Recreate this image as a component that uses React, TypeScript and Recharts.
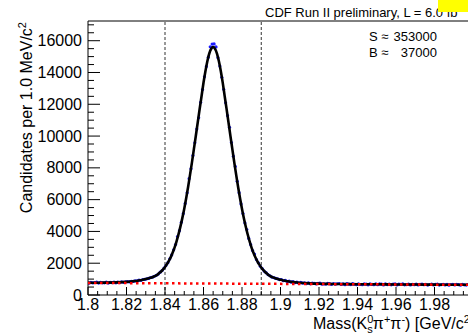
import React from 'react';
import { ComposedChart, Line, Scatter, XAxis, YAxis, ReferenceLine } from 'recharts';

const FONT = '"Liberation Sans", Arial, Helvetica, sans-serif';

// histogram binning (1 MeV bins from 1.800 GeV)
const binStart = 1.8;
const binWidth = 0.001;

// candidates per bin
const dataCounts = [
  741, 801, 757, 786, 810, 750, 796, 767, 763, 808, 748, 799, 777, 819, 766, 805, 783, 826, 800, 834,
  841, 822, 866, 851, 893, 884, 931, 922, 975, 979,
  1020, 1043, 1095, 1119, 1181, 1242, 1318, 1437, 1541, 1695,
  1858, 2037, 2275, 2519, 2840, 3179, 3680, 4049, 4578, 5126,
  5765, 6432, 7320, 7941, 8772, 9580, 10445, 11150, 12125, 12925,
  13730, 14380, 14965, 15620, 15790, 15800, 15610, 14935, 14402, 13700,
  12940, 12090, 11285, 10550, 9595, 8735, 8090, 7150, 6437, 5728,
  5128, 4538, 4120, 3562, 3175, 2795, 2580, 2228, 2030, 1810,
  1665, 1508, 1405, 1284, 1211, 1130, 1097, 1040, 1018, 969,
  975, 898, 921, 845, 878, 805, 846, 772, 818, 745,
  798, 741, 769, 716, 760, 705, 752, 738, 697, 735,
  742, 684, 706, 675, 733, 714, 664, 724, 683, 708,
  723, 666, 698, 651, 718, 687, 659, 712, 676, 645,
  708, 662, 649, 699, 689, 641, 705, 668, 652, 696,
  648, 695, 683, 637, 700, 657, 687, 643, 678, 697,
  634, 688, 673, 695, 639, 659, 686, 631, 677, 650,
  690, 630, 666, 683, 644, 675, 627, 661, 685, 637,
  663, 681, 624, 656, 674, 634, 668, 619, 660, 677,
  630, 665, 652, 617, 669, 641, 623, 660, 649, 620,
];

// total fit curve
const fitMass = [
  1.8, 1.805, 1.81, 1.815, 1.82, 1.821, 1.822, 1.823, 1.824, 1.825, 1.826, 1.827, 1.828, 1.829,
  1.83, 1.831, 1.832, 1.833, 1.834, 1.835, 1.836, 1.837, 1.838, 1.839,
  1.84, 1.841, 1.842, 1.843, 1.844, 1.845, 1.846, 1.847, 1.848, 1.849,
  1.85, 1.851, 1.852, 1.853, 1.854, 1.855, 1.856, 1.857, 1.858, 1.859,
  1.86, 1.861, 1.862, 1.863, 1.864, 1.865, 1.866, 1.867, 1.868, 1.869,
  1.87, 1.871, 1.872, 1.873, 1.874, 1.875, 1.876, 1.877, 1.878, 1.879,
  1.88, 1.881, 1.882, 1.883, 1.884, 1.885, 1.886, 1.887, 1.888, 1.889,
  1.89, 1.891, 1.892, 1.893, 1.894, 1.895, 1.896, 1.897, 1.898, 1.899,
  1.9, 1.901, 1.902, 1.903, 1.904, 1.905, 1.906, 1.907, 1.908, 1.909,
  1.91, 1.915, 1.92, 1.925, 1.93, 1.94, 1.95, 1.96, 1.97, 1.98, 1.99, 2.0,
];
const fitCounts = [
  770, 773, 779, 793, 824, 833, 845, 858, 872, 886, 905, 925, 948, 974,
  1002, 1031, 1068, 1104, 1149, 1200, 1274, 1378, 1481, 1615,
  1762, 1940, 2148, 2385, 2668, 2994, 3380, 3811, 4301, 4837,
  5431, 6084, 6798, 7556, 8344, 9176, 10008, 10856, 11703, 12521,
  13353, 14081, 14706, 15195, 15493, 15596, 15491, 15193, 14702, 14077,
  13347, 12513, 11695, 10846, 9998, 9164, 8330, 7542, 6782, 6068,
  5413, 4817, 4281, 3789, 3358, 2970, 2642, 2359, 2120, 1912,
  1732, 1583, 1449, 1344, 1240, 1164, 1111, 1066, 1028, 991,
  960, 930, 904, 879, 859, 838, 822, 808, 793, 781,
  770, 733, 713, 701, 692, 680, 672, 665, 658, 652, 646, 640,
];

// background component
const bkgMass = [1.8, 2.0];
const bkgCounts = [760, 640];

const xMajorTicks = [1.8, 1.82, 1.84, 1.86, 1.88, 1.9, 1.92, 1.94, 1.96, 1.98];
const xMajorLabels = ['1.8', '1.82', '1.84', '1.86', '1.88', '1.9', '1.92', '1.94', '1.96', '1.98'];
const yMajorTicks = [0, 2000, 4000, 6000, 8000, 10000, 12000, 14000, 16000];
const yMajorLabels = ['0', '2000', '4000', '6000', '8000', '10000', '12000', '14000', '16000'];
const signalWindow = [1.84, 1.89];

const X_MIN = 1.8;
const X_MAX = 2.0;
const Y_MAX = 17240;

const xAllTicks: number[] = [];
for (let i = 0; i <= 40; i++) xAllTicks.push(Number((X_MIN + i * 0.005).toFixed(3)));
const yAllTicks: number[] = [];
for (let v = 0; v <= 17000; v += 500) yAllTicks.push(v);

const pointData = dataCounts.map((v, k) => ({
  m: binStart + (k + 0.5) * binWidth,
  v,
}));
const fitData = fitMass.map((m, i) => ({ m, v: fitCounts[i] }));
const bkgData = bkgMass.map((m, i) => ({ m, v: bkgCounts[i] }));

const XTick = (props: any) => {
  const { x, y, payload } = props;
  const idx = xMajorTicks.findIndex((t) => Math.abs(t - payload.value) < 1e-6);
  const major = idx >= 0;
  return (
    <g>
      <line x1={x} x2={x} y1={y} y2={y - (major ? 8 : 4)} stroke="#000" strokeWidth={1} />
      {major && (
        <text x={x} y={y + 15} textAnchor="middle" fontSize={16} fontFamily={FONT} fill="#000">
          {xMajorLabels[idx]}
        </text>
      )}
    </g>
  );
};

const YTick = (props: any) => {
  const { x, y, payload } = props;
  const idx = yMajorTicks.findIndex((t) => Math.abs(t - payload.value) < 1e-6);
  const major = idx >= 0;
  return (
    <g>
      <line x1={x} x2={x + (major ? 12 : 6)} y1={y} y2={y} stroke="#000" strokeWidth={1} />
      {major && (
        <text x={x - 6} y={y} dy="0.35em" textAnchor="end" fontSize={16} fontFamily={FONT} fill="#000">
          {yMajorLabels[idx]}
        </text>
      )}
    </g>
  );
};

const DataPoint = (props: any) => {
  const { cx, cy } = props;
  if (cx == null || cy == null) return <g />;
  return <circle cx={cx} cy={cy} r={1.6} fill="#1a1aff" />;
};

export default function App() {
  const lineZ: any = { zIndex: 1500 };
  const bkgZ: any = { zIndex: 1600 };
  const dataZ: any = { zIndex: 300 };
  return (
    <div style={{ position: 'absolute', left: 0, top: 0, width: 468, height: 335, overflow: 'hidden', background: '#fff' }}>
      <ComposedChart width={480} height={335} margin={{ top: 21, right: 7, bottom: 0, left: 0 }}>
        <XAxis
          dataKey="m"
          type="number"
          domain={[X_MIN, X_MAX]}
          allowDataOverflow
          ticks={xAllTicks}
          interval={0}
          tickLine={false}
          tickSize={0}
          tickMargin={0}
          tick={XTick}
          height={40}
          axisLine={{ stroke: '#000', strokeWidth: 1 }}
        />
        <YAxis
          dataKey="v"
          type="number"
          domain={[0, Y_MAX]}
          allowDataOverflow
          ticks={yAllTicks}
          interval={0}
          tickLine={false}
          tickSize={0}
          tickMargin={0}
          tick={YTick}
          width={88}
          axisLine={{ stroke: '#000', strokeWidth: 1 }}
        />
        <ReferenceLine y={Y_MAX} stroke="#000" strokeWidth={1} />
        <ReferenceLine x={X_MAX} stroke="#000" strokeWidth={1} />
        {signalWindow.map((m) => (
          <ReferenceLine key={m} x={m} stroke="#333" strokeWidth={1} strokeDasharray="3 2" />
        ))}
        <Scatter data={pointData} dataKey="v" shape={DataPoint} isAnimationActive={false} {...dataZ} />
        <Line data={fitData} dataKey="v" type="monotone" stroke="#000" strokeWidth={2.6} dot={false} activeDot={false} isAnimationActive={false} {...lineZ} />
        <Line data={bkgData} dataKey="v" type="linear" stroke="#ff0000" strokeWidth={2.5} strokeDasharray="2.5 3.5" dot={false} activeDot={false} isAnimationActive={false} {...bkgZ} />
      </ComposedChart>
      <svg width={468} height={335} style={{ position: 'absolute', left: 0, top: 0, pointerEvents: 'none' }}>
        <text x={265} y={17} fontSize={13} fontFamily={FONT} fill="#000">
          CDF Run II preliminary, L = 6.0 fb
          <tspan dy={-5} fontSize={9}>-1</tspan>
        </text>
        <rect x={438} y={0} width={30} height={12} fill="#ffff00" />
        <text x={369} y={40.5} fontSize={13} fontFamily={FONT} fill="#000">S ≈</text>
        <text x={437} y={40.5} fontSize={13} fontFamily={FONT} fill="#000" textAnchor="end">353000</text>
        <text x={369} y={56.5} fontSize={13} fontFamily={FONT} fill="#000">B ≈</text>
        <text x={437} y={56.5} fontSize={13} fontFamily={FONT} fill="#000" textAnchor="end">37000</text>
        <text
          x={31.5}
          y={22}
          transform="rotate(-90 31.5 22)"
          textAnchor="end"
          fontSize={16}
          fontFamily={FONT}
          fill="#000"
        >
          Candidates per 1.0 MeV/c
          <tspan dy={-6} fontSize={11}>2</tspan>
        </text>
        <text x={313} y={329} fontSize={16} fontFamily={FONT} fill="#000">
          Mass(K
          <tspan dy={-6} fontSize={11}>0</tspan>
          <tspan dx={-6} dy={10} fontSize={11}>s</tspan>
          <tspan dy={-4} fontSize={16}>π</tspan>
          <tspan dy={-6} fontSize={11}>+</tspan>
          <tspan dy={6} fontSize={16}>π</tspan>
          <tspan dy={-6} fontSize={11}>-</tspan>
          <tspan dy={6} fontSize={16}>) [GeV/c</tspan>
          <tspan dy={-6} fontSize={11}>2</tspan>
          <tspan dy={6} fontSize={16}>]</tspan>
        </text>
      </svg>
    </div>
  );
}
